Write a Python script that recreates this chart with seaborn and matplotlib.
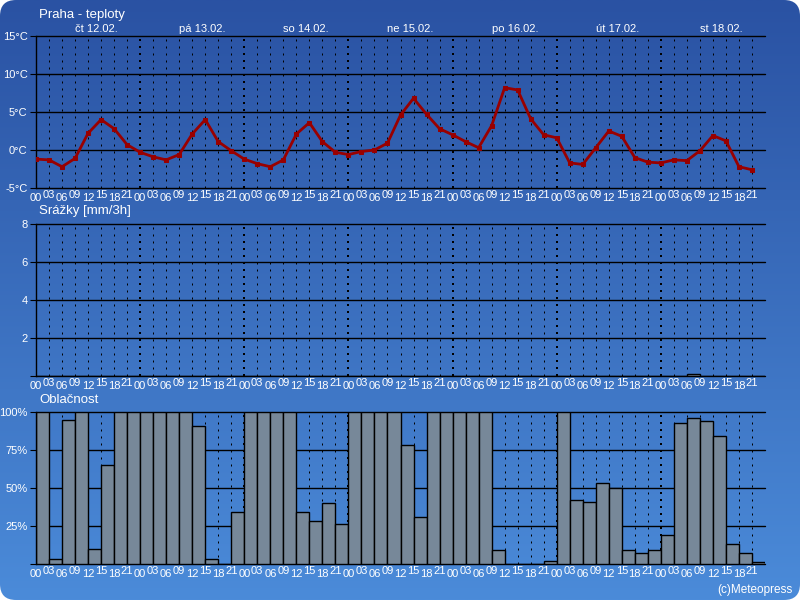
import numpy as np
import pandas as pd
import matplotlib
matplotlib.use('Agg')
import matplotlib.pyplot as plt
import seaborn as sns
from matplotlib.patches import FancyBboxPatch
from matplotlib.colors import LinearSegmentedColormap

# Data (3h steps, 12.02. 00h .. 18.02. 21h)
days = ["čt 12.02.", "pá 13.02.", "so 14.02.", "ne 15.02.",
        "po 16.02.", "út 17.02.", "st 18.02."]
hour_labels = ["00", "03", "06", "09", "12", "15", "18", "21"]

temp = [-1.2, -1.3, -2.2, -1.1, 2.2, 4.0, 2.8, 0.7,
        -0.3, -0.9, -1.3, -0.6, 2.1, 4.0, 1.1, -0.1,
        -1.2, -1.8, -2.2, -1.3, 2.1, 3.6, 1.1, -0.3,
        -0.6, -0.2, 0.0, 0.9, 4.6, 6.8, 4.7, 2.8,
        2.0, 1.1, 0.3, 3.2, 8.2, 7.9, 4.1, 2.0,
        1.6, -1.7, -1.9, 0.3, 2.5, 1.8, -1.0, -1.6,
        -1.7, -1.3, -1.4, -0.1, 1.9, 1.2, -2.2, -2.6]

precip = [0, 0, 0, 0, 0, 0, 0, 0,
          0, 0, 0, 0, 0, 0, 0, 0,
          0, 0, 0, 0, 0, 0, 0, 0,
          0, 0, 0, 0, 0, 0, 0, 0,
          0, 0, 0, 0, 0, 0, 0, 0,
          0, 0, 0, 0, 0, 0, 0, 0,
          0, 0, 0.1, 0, 0, 0, 0, 0]

cloud = [100, 3, 95, 100, 10, 65, 100, 100,
         100, 100, 100, 100, 91, 3, 0, 34,
         100, 100, 100, 100, 34, 28, 40, 26,
         100, 100, 100, 100, 78, 31, 100, 100,
         100, 100, 100, 9, 0, 0, 0, 2,
         100, 42, 41, 53, 50, 9, 7, 9,
         19, 93, 96, 94, 84, 13, 7, 1]

n = len(temp)
idx = np.arange(n)
df = pd.DataFrame({'step': idx, 'temp': temp, 'precip': precip, 'cloud': cloud})

sns.set_theme(style='white')
plt.rcParams['font.family'] = ['Liberation Sans', 'DejaVu Sans']

fig = plt.figure(figsize=(8, 6), dpi=100, facecolor='white')

# Background: rounded blue gradient card
bg = fig.add_axes([0, 0, 1, 1], zorder=-5)
bg.set_xlim(0, 800)
bg.set_ylim(0, 600)
bg.axis('off')
cmap = LinearSegmentedColormap.from_list('bg', ['#4b8bd9', '#2a52a3'])
grad = np.linspace(0, 1, 256).reshape(-1, 1)
im = bg.imshow(grad, extent=[0, 800, 0, 600], aspect='auto', cmap=cmap,
               origin='lower')
card = FancyBboxPatch((0, 0), 800, 600, boxstyle='round,pad=0,rounding_size=16',
                      transform=bg.transData, facecolor='none', edgecolor='none')
bg.add_patch(card)
im.set_clip_path(card)

W, H = 800.0, 600.0
left, width = 36 / W, 729 / W


def panel(top_px, bottom_px):
    return fig.add_axes([left, 1 - bottom_px / H, width, (bottom_px - top_px) / H])


def style_panel(ax, ylim, yticks, ylabels):
    ax.set_facecolor('none')
    ax.set_xlim(0, n)
    ax.set_ylim(*ylim)
    ax.grid(False)
    for s in ['top', 'right', 'bottom']:
        ax.spines[s].set_visible(False)
    ax.spines['left'].set_color('black')
    ax.spines['left'].set_linewidth(1)
    ax.set_xlabel('')
    ax.set_ylabel('')
    for y in yticks:
        ax.axhline(y, color='black', lw=1, zorder=1, clip_on=False)
    for i in range(1, n):
        if i % 8 == 0:
            ax.axvline(i, color='black', lw=1.44, dashes=(1, 2.5), zorder=0.5)
        else:
            ax.axvline(i, color='black', lw=0.72, dashes=(2, 5), zorder=0.5)
    ax.set_yticks(yticks, ylabels)
    ax.tick_params(axis='y', length=4, width=0.8, color='black', left=True,
                   labelcolor='white', labelsize=8, pad=2)
    ax.set_xticks(idx[::2], [hour_labels[i % 8] for i in idx[::2]])
    ax.set_xticks(idx[1::2], [hour_labels[i % 8] for i in idx[1::2]], minor=True)
    ax.tick_params(axis='x', which='major', length=0, pad=3.4,
                   labelsize=8, labelcolor='white')
    ax.tick_params(axis='x', which='minor', length=0, pad=1.2,
                   labelsize=8, labelcolor='white')


# Temperature
ax1 = panel(36, 188)
sns.lineplot(data=df, x='step', y='temp', ax=ax1, color='#990000', lw=2,
             marker='s', markersize=3, markeredgecolor='#990000', zorder=3)
style_panel(ax1, (-5, 15), [-5, 0, 5, 10, 15],
            ['-5°C', '0°C', '5°C', '10°C', '15°C'])

# Precipitation
ax2 = panel(224, 376)
sns.histplot(data=df, x='step', weights='precip', binwidth=1, binrange=(0, n),
             ax=ax2, color='#778899', edgecolor='black', linewidth=1, alpha=1,
             zorder=2)
style_panel(ax2, (0, 8), [0, 2, 4, 6, 8], ['', '2', '4', '6', '8'])

# Cloudiness
ax3 = panel(412, 564)
sns.histplot(data=df, x='step', weights='cloud', binwidth=1, binrange=(0, n),
             ax=ax3, color='#778899', edgecolor='black', linewidth=1, alpha=1,
             zorder=2)
style_panel(ax3, (0, 100), [0, 25, 50, 75, 100],
            ['', '25%', '50%', '75%', '100%'])

# Titles and day labels
fig.text(39 / W, 1 - 15 / H, 'Praha - teploty', color='white', fontsize=9.5, va='center')
fig.text(39 / W, 1 - 211 / H, 'Srážky [mm/3h]', color='white', fontsize=9.5, va='center')
fig.text(39 / W, 1 - 400 / H, 'Oblačnost', color='white', fontsize=9.5, va='center')
for d, name in enumerate(days):
    ax1.text(3 + 8 * d, 1.012, name, transform=ax1.get_xaxis_transform(),
             color='white', fontsize=8, ha='left', va='bottom')
fig.text(793 / W, 1 - 590 / H, '(c)Meteopress', color='white', fontsize=8.5,
         ha='right', va='center')

fig.savefig('out.png', dpi=100, facecolor='white')
